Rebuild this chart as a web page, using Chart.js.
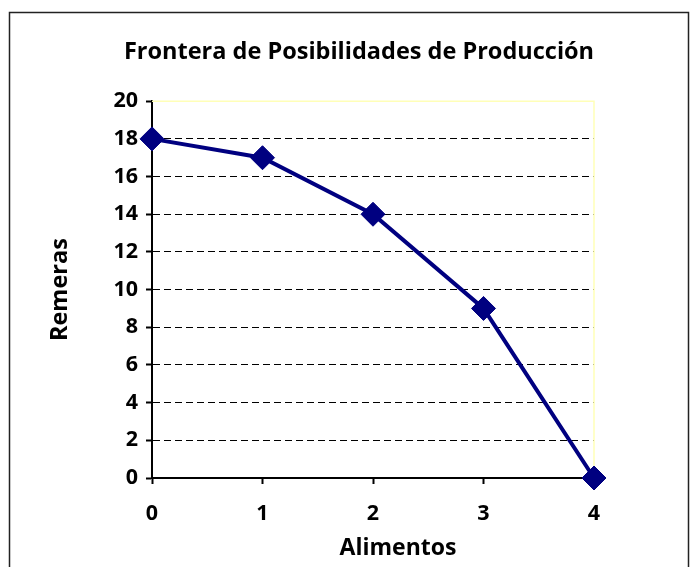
<!DOCTYPE html>
<html>
<head>
<meta charset="utf-8">
<script src="https://cdn.jsdelivr.net/npm/chart.js@4.4.1/dist/chart.umd.min.js"></script>
<style>
	html, body { margin: 0; padding: 0; background: #fff; }
	#wrap { width: 700px; height: 567px; }
</style>
</head>
<body>
<div id="wrap"><canvas id="fpp" width="700" height="567"></canvas></div>
<script>
'use strict'

// data
const alimentos = [0, 1, 2, 3, 4];
const remeras = [18, 17, 14, 9, 0];
const yTicks = [0, 2, 4, 6, 8, 10, 12, 14, 16, 18, 20];
const xTicks = [0, 1, 2, 3, 4];
const xTitle = 'Alimentos';

const navy = '#000080';
const fontName = 'Open Sans';

// outer frame, pale yellow plot border (top / right), x axis title
const frames = {
	id: 'frames',
	beforeDraw(chart) {
		const ctx = chart.ctx;
		ctx.save();
		ctx.fillStyle = '#fff';
		ctx.fillRect(0, 0, chart.width, chart.height);
		ctx.strokeStyle = '#222';
		ctx.lineWidth = 1.5;
		ctx.strokeRect(9.5, 12.5, 679, 600);
		ctx.restore();
	},
	beforeDatasetsDraw(chart) {
		const { ctx, chartArea: { top, right, left, bottom } } = chart;
		ctx.save();
		ctx.strokeStyle = '#ffffb8';
		ctx.lineWidth = 1.5;
		ctx.beginPath();
		ctx.moveTo(left, top);
		ctx.lineTo(right, top);
		ctx.lineTo(right, bottom);
		ctx.stroke();
		ctx.restore();
	},
	afterDraw(chart) {
		// excel put the axis title a bit right of the plot centre
		const { ctx, chartArea: { left, right, bottom } } = chart;
		ctx.save();
		ctx.fillStyle = '#000';
		ctx.font = 'bold 23px "' + fontName + '"';
		ctx.textAlign = 'center';
		ctx.textBaseline = 'middle';
		ctx.fillText(xTitle, (left + right) / 2 + 25, bottom + 70);
		ctx.restore();
	},
};

new Chart(document.getElementById('fpp'), {
	type: 'line',
	data: {
		datasets: [{
			data: alimentos.map((a, i) => ({ x: a, y: remeras[i] })),
			borderColor: navy,
			borderWidth: 4,
			backgroundColor: navy,
			pointStyle: 'rectRot',
			pointRadius: 12,
			pointBorderWidth: 1,
			pointBorderColor: navy,
			pointBackgroundColor: navy,
			tension: 0,
			clip: false,
		}],
	},
	options: {
		responsive: false,
		animation: false,
		layout: { padding: { left: 18, right: 0, top: 0, bottom: 0 } },
		plugins: {
			legend: { display: false },
			tooltip: { enabled: false },
			title: {
				display: true,
				text: 'Frontera de Posibilidades de Producción',
				color: '#000',
				font: { family: fontName, size: 23.5, weight: 'bold' },
				padding: { top: 38, bottom: 35 },
			},
		},
		scales: {
			x: {
				type: 'linear',
				min: 0,
				max: 4,
				afterBuildTicks: (s) => { s.ticks = xTicks.map(v => ({ value: v })); },
				afterFit: (s) => { s.height = 89; },
				grid: { drawOnChartArea: false, drawTicks: true, tickLength: 6, tickColor: '#000', tickWidth: 2 },
				border: { color: '#000', width: 2 },
				ticks: { color: '#000', padding: 17, font: { family: fontName, size: 21.5, weight: 'bold' } },
			},
			y: {
				min: 0,
				max: 20,
				afterBuildTicks: (s) => { s.ticks = yTicks.map(v => ({ value: v })); },
				afterFit: (s) => { s.width = 134; },
				grid: {
					color: (c) => (c.tick && (c.tick.value === 0 || c.tick.value === 20)) ? 'rgba(0,0,0,0)' : '#000',
					lineWidth: 1,
					drawTicks: true,
					tickLength: 6,
					tickColor: '#000',
					tickWidth: 2,
				},
				border: { color: '#000', width: 2, dash: [7, 4] },
				ticks: { color: '#000', padding: 8, font: { family: fontName, size: 21.5, weight: 'bold' } },
				title: {
					display: true,
					text: 'Remeras',
					color: '#000',
					font: { family: fontName, size: 23.5, weight: 'bold' },
					padding: { top: 28, bottom: 0 },
				},
			},
			// empty right side so the chart title centres like the original
			pad: {
				position: 'right',
				display: true,
				grid: { display: false },
				border: { display: false },
				ticks: { display: false },
				afterFit: (s) => { s.width = 106; },
			},
		},
	},
	plugins: [frames],
});
</script>
</body>
</html>
